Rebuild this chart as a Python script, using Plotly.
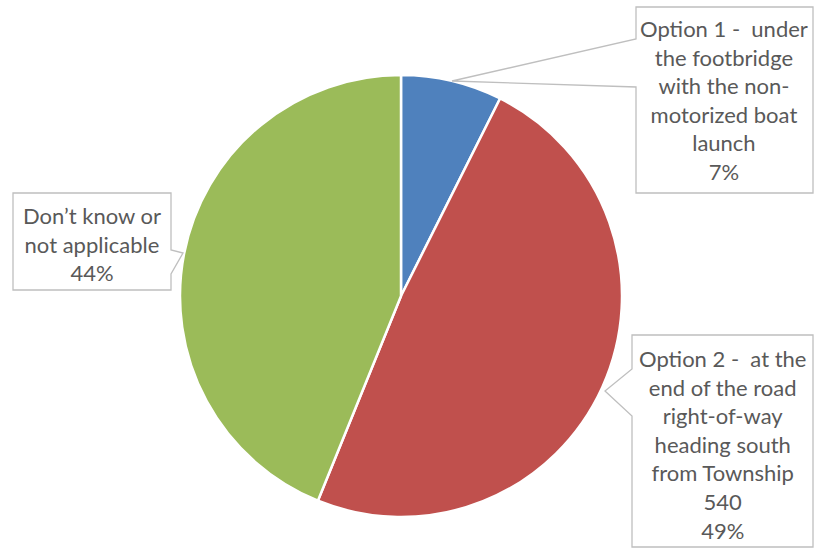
import plotly.graph_objects as go

# ---- data ----
categories = [
    "Option 1 -  under<br>the footbridge<br>with the non-<br>motorized boat<br>launch",
    "Option 2 -  at the<br>end of the road<br>right-of-way<br>heading south<br>from Township",
    "Don\u2019t know or<br>not applicable",
]
values = [82, 540, 486]
show_value = [False, True, False]
colors = ["#4F81BD", "#C0504D", "#9BBB59"]

W, H = 815, 550
total = sum(values)

fig = go.Figure()
fig.add_trace(go.Pie(
    labels=[c.replace("<br>", " ") for c in categories],
    values=values,
    sort=False,
    direction="clockwise",
    rotation=0,
    marker=dict(colors=colors, line=dict(color="white", width=2.5)),
    textinfo="none",
    hoverinfo="label+value+percent",
    showlegend=False,
    domain=dict(x=[180 / W, 622 / W], y=[1 - 517 / H, 1 - 75 / H]),
))


def px(x, y):
    return x / W, 1 - y / H


def path(points):
    s = ""
    for i, (x, y) in enumerate(points):
        X, Y = px(x, y)
        s += ("M" if i == 0 else "L") + f"{X:.5f},{Y:.5f} "
    return s + "Z"


# callout outlines (box + pointer), pixel layout positions
callouts = [
    [(636, 7), (813, 7), (813, 193), (636, 193), (636, 87), (452, 81), (636, 39)],
    [(632, 335), (813, 335), (813, 547), (632, 547), (632, 416), (605, 391), (632, 369)],
    [(13, 193), (171, 193), (171, 250), (183, 253), (171, 274), (171, 290), (13, 290)],
]
for pts in callouts:
    fig.add_shape(type="path", xref="paper", yref="paper", path=path(pts),
                  line=dict(color="#BFBFBF", width=1.3), fillcolor="white", layer="above")

text_centers = [(724, 100), (722, 444), (92, 244)]
for cat, v, sv, (cx, cy) in zip(categories, values, show_value, text_centers):
    pct = round(v / total * 100)
    txt = cat + ("<br>" + str(v) if sv else "") + f"<br>{pct}%"
    X, Y = px(cx, cy)
    fig.add_annotation(x=X, y=Y, xref="paper", yref="paper", text=txt,
                       showarrow=False, xanchor="center", yanchor="middle", align="center",
                       font=dict(family="Lato", size=22, color="#595959"))

fig.update_layout(
    width=W, height=H,
    margin=dict(l=0, r=0, t=0, b=0),
    paper_bgcolor="white", plot_bgcolor="white",
)
fig.write_html("out.html", config={"displayModeBar": False},
               post_script="document.body.style.margin='0';document.body.style.overflow='hidden';")
